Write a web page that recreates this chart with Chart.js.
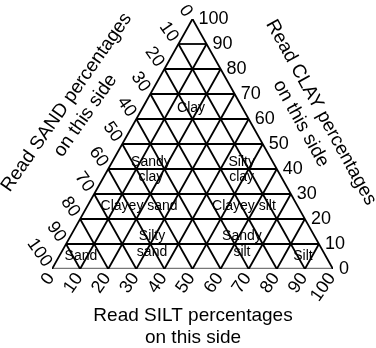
<!DOCTYPE html>
<html>
<head>
<meta charset="utf-8">
<script src="https://cdn.jsdelivr.net/npm/chart.js@4.4.0/dist/chart.umd.min.js"></script>
<style>
  html, body { margin: 0; padding: 0; background: #fff; }
  #wrap { width: 376px; height: 348px; }
</style>
</head>
<body>
<div id="wrap"><canvas id="myChart"></canvas></div>
<script>
// grid steps (percent) and the tick labels on each side
const percentSteps = [0, 10, 20, 30, 40, 50, 60, 70, 80, 90, 100];
const sandLabels = ["0", "10", "20", "30", "40", "50", "60", "70", "80", "90", "100"];
const clayLabels = ["0", "10", "20", "30", "40", "50", "60", "70", "80", "90", "100"];
const siltLabels = ["0", "10", "20", "30", "40", "50", "60", "70", "80", "90", "100"];

// textural classes, with the composition where each name sits
const classNames = [
  ["Clay"], ["Sandy", "clay"], ["Silty", "clay"],
  ["Clayey sand"], ["Clayey silt"],
  ["Sand"], ["Silty", "sand"], ["Sandy", "silt"], ["Silt"],
];
const classClay = [64.4, 39.8, 39.8, 25.2, 25.2, 5.2, 10, 10, 5.2];
const classSilt = [17.3, 15.3, 47.6, 18.4, 55.7, 7.7, 30.6, 62.6, 86.7];

// ternary (clay, silt) -> chart x/y
function toXY(clay, silt) {
  return { x: silt + clay / 2, y: clay };
}

function lineSet(points, color, width) {
  return {
    data: points,
    showLine: true,
    borderColor: color,
    borderWidth: width,
    pointRadius: 0,
    fill: false,
  };
}

function buildGrid() {
  const sets = [];
  percentSteps.forEach((k) => {
    if (k > 0 && k < 100) {
      // constant clay
      sets.push(lineSet([toXY(k, 0), toXY(k, 100 - k)], "#000", 1.8));
    }
    if (k < 100) {
      // constant silt
      sets.push(lineSet([toXY(0, k), toXY(100 - k, k)], "#000", 1.8));
      // constant sand
      sets.push(lineSet([toXY(0, 100 - k), toXY(100 - k, 0)], "#000", 1.8));
    }
  });
  // base line drawn grey
  sets.push(lineSet([toXY(0, 0), toXY(0, 100)], "#777", 2.5));
  return sets;
}

const labelPlugin = {
  id: "ternaryLabels",
  afterDraw(chart) {
    const ctx = chart.ctx;
    const xs = chart.scales.x;
    const ys = chart.scales.y;
    const px = (p) => ({ x: xs.getPixelForValue(p.x), y: ys.getPixelForValue(p.y) });
    ctx.save();
    ctx.fillStyle = "#000";

    // clay ticks on the right edge
    ctx.font = '18px "Liberation Sans", Arial, sans-serif';
    ctx.textAlign = "left";
    ctx.textBaseline = "middle";
    percentSteps.forEach((v, i) => {
      const p = px(toXY(v, 100 - v));
      ctx.fillText(clayLabels[i], p.x + 6, p.y);
    });

    // sand ticks on the left edge
    ctx.textAlign = "right";
    percentSteps.forEach((v, i) => {
      const p = px(toXY(100 - v, 0));
      ctx.save();
      ctx.translate(p.x - 4, p.y - 4);
      ctx.rotate((55 * Math.PI) / 180);
      ctx.fillText(sandLabels[i], 0, 0);
      ctx.restore();
    });

    // silt ticks along the base
    percentSteps.forEach((v, i) => {
      const p = px(toXY(0, v));
      ctx.save();
      ctx.translate(p.x - 1, p.y + 6);
      ctx.rotate((-55 * Math.PI) / 180);
      ctx.fillText(siltLabels[i], 0, 0);
      ctx.restore();
    });

    // class names
    ctx.font = '14px "Liberation Sans", Arial, sans-serif';
    ctx.textAlign = "center";
    classNames.forEach((lines, i) => {
      const p = px(toXY(classClay[i], classSilt[i]));
      const top = p.y - ((lines.length - 1) * 15.5) / 2;
      lines.forEach((t, j) => ctx.fillText(t, p.x, top + j * 15.5));
    });

    // side titles
    ctx.font = '19px "Liberation Sans", Arial, sans-serif';
    const title = (lines, cx, cy, deg, gap) => {
      ctx.save();
      ctx.translate(cx, cy);
      ctx.rotate((deg * Math.PI) / 180);
      lines.forEach((t, j) => ctx.fillText(t, 0, (j - (lines.length - 1) / 2) * gap));
      ctx.restore();
    };
    title(["Read SAND percentages", "on this side"], 76, 109, -55, 23);
    title(["Read CLAY percentages", "on this side"], 311, 118, 61, 23);
    title(["Read SILT percentages", "on this side"], 193, 327, 0, 22);

    ctx.restore();
  },
};

new Chart(document.getElementById("myChart"), {
  type: "scatter",
  data: { datasets: buildGrid() },
  options: {
    responsive: true,
    maintainAspectRatio: false,
    animation: false,
    layout: { padding: { left: 52, right: 43, top: 19, bottom: 79 } },
    plugins: { legend: { display: false }, tooltip: { enabled: false } },
    scales: {
      x: { type: "linear", min: 0, max: 100, display: false },
      y: { type: "linear", min: 0, max: 100, display: false },
    },
  },
  plugins: [labelPlugin],
});
</script>
</body>
</html>
